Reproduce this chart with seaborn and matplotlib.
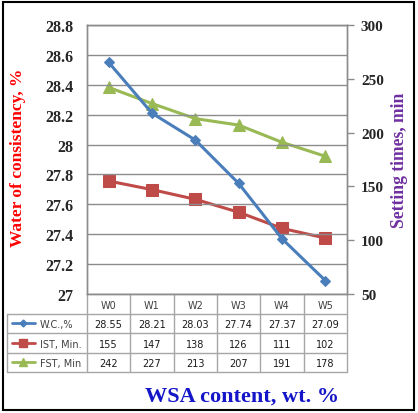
import matplotlib
matplotlib.use("Agg")
import matplotlib.pyplot as plt
import seaborn as sns
import pandas as pd
from matplotlib.lines import Line2D
from matplotlib.patches import Rectangle

categories = ["W0", "W1", "W2", "W3", "W4", "W5"]
wc_values = [28.55, 28.21, 28.03, 27.74, 27.37, 27.09]
ist_values = [155, 147, 138, 126, 111, 102]
fst_values = [242, 227, 213, 207, 191, 178]
wc_labels = ["28.55", "28.21", "28.03", "27.74", "27.37", "27.09"]
series_names = ["W.C.,%", "IST, Min.", "FST, Min"]

sns.set_style("white")
plt.rcParams["font.family"] = ["DejaVu Sans"]

W, H = 418, 414
fig = plt.figure(figsize=(W / 100, H / 100), dpi=100)

BLUE = "#4A7EBB"
RED = "#BE4B48"
GREEN = "#98B954"
GRID = "#8C8C8C"
TAB = "#A6A6A6"

ax = fig.add_axes([87 / W, 1 - 295 / H, 260 / W, 269 / H])
ax2 = ax.twinx()

xpos = list(range(len(categories)))
df_wc = pd.DataFrame({"x": xpos, "y": wc_values})
df_ist = pd.DataFrame({"x": xpos, "y": ist_values})
df_fst = pd.DataFrame({"x": xpos, "y": fst_values})

sns.lineplot(data=df_wc, x="x", y="y", ax=ax, color=BLUE, lw=2.2, marker="D",
             markersize=5.5, markeredgecolor=BLUE, zorder=5)
sns.lineplot(data=df_ist, x="x", y="y", ax=ax2, color=RED, lw=2.2, marker="s",
             markersize=8, markeredgecolor=RED, zorder=4)
sns.lineplot(data=df_fst, x="x", y="y", ax=ax2, color=GREEN, lw=2.2, marker="^",
             markersize=8, markeredgecolor=GREEN, zorder=4)
ax.set_zorder(ax2.get_zorder() + 1)
ax.patch.set_visible(False)

ax.set_xlim(-0.5, 5.5)
ax.set_ylim(27, 28.8)
ax2.set_ylim(50, 300)
ax.set_yticks([27 + 0.2 * i for i in range(10)])
ax.set_yticklabels(["27", "27.2", "27.4", "27.6", "27.8", "28", "28.2", "28.4", "28.6", "28.8"])
ax2.set_yticks([50, 100, 150, 200, 250, 300])
ax.set_xticks([])
ax.set_xlabel("")
ax.set_ylabel("")
ax2.set_ylabel("")
ax.yaxis.grid(True, color=GRID, lw=1)
ax.xaxis.grid(False)

serif = ["Liberation Serif", "DejaVu Serif"]
for lab in ax.get_yticklabels():
    lab.set_fontfamily(serif)
    lab.set_fontweight("bold")
    lab.set_fontsize(11.5)
for lab in ax2.get_yticklabels():
    lab.set_fontfamily(serif)
    lab.set_fontweight("bold")
    lab.set_fontsize(11)
ax.tick_params(axis="y", length=0, pad=10)
ax2.tick_params(axis="y", length=5, width=1, color=GRID, pad=5, direction="out")

for a in (ax, ax2):
    for s in a.spines.values():
        s.set_color(GRID)
        s.set_linewidth(1)

fig.text(18 / W, 1 - 158 / H, "Water of consistency, %", rotation=90, ha="center", va="center",
         color="#FF0000", fontsize=12.5, fontweight="bold", family=serif)
fig.text(400 / W, 1 - 160 / H, "Setting times, min", rotation=90, ha="center", va="center",
         color="#7030A0", fontsize=12.7, fontweight="bold", family=serif)
fig.text(242 / W, 1 - 397 / H, "WSA content, wt. %", ha="center", va="center",
         color="#1414C8", fontsize=16, fontweight="bold", family=serif)

# data table
col_w = 260 / 6
left_extra = 80 / col_w
tab = fig.add_axes([7 / W, 1 - 373 / H, 340 / W, 78 / H])
tab.set_xlim(-0.5 - left_extra, 5.5)
tab.set_ylim(4, 0)
tab.axis("off")
x0 = -0.5 - left_extra
for r in [1, 2, 3, 4]:
    tab.plot([x0, 5.5], [r, r], color=TAB, lw=1, clip_on=False)
tab.plot([x0, x0], [1, 4], color=TAB, lw=1, clip_on=False)
for i in range(7):
    tab.plot([i - 0.5, i - 0.5], [0, 4], color=TAB, lw=1, clip_on=False)

tfs = 7
for i, c in enumerate(categories):
    tab.text(i, 0.55, c, ha="center", va="center", fontsize=tfs, color="#404040")
rows = [wc_labels, [str(v) for v in ist_values], [str(v) for v in fst_values]]
for r, vals in enumerate(rows):
    for i, v in enumerate(vals):
        tab.text(i, r + 1.55, v, ha="center", va="center", fontsize=tfs, color="#1a1a1a")

keys = [(BLUE, "D", 3.5), (RED, "s", 6), (GREEN, "^", 6)]
kx0 = x0 + 5 / col_w
kx1 = x0 + 28 / col_w
for r, ((col, mk, ms), name) in enumerate(zip(keys, series_names)):
    y = r + 1.5
    tab.add_line(Line2D([kx0, kx1], [y, y], color=col, lw=2, clip_on=False))
    tab.add_line(Line2D([(kx0 + kx1) / 2], [y], color=col, marker=mk, markersize=ms,
                        markeredgecolor=col, clip_on=False))
    tab.text(x0 + 33 / col_w, r + 1.55, name, ha="left", va="center", fontsize=tfs, color="#404040")

fig.add_artist(Rectangle((3 / W, 3 / H), 411 / W, 408 / H, transform=fig.transFigure,
                         fill=False, edgecolor="black", lw=1.5))

fig.savefig("out.png", dpi=100)
